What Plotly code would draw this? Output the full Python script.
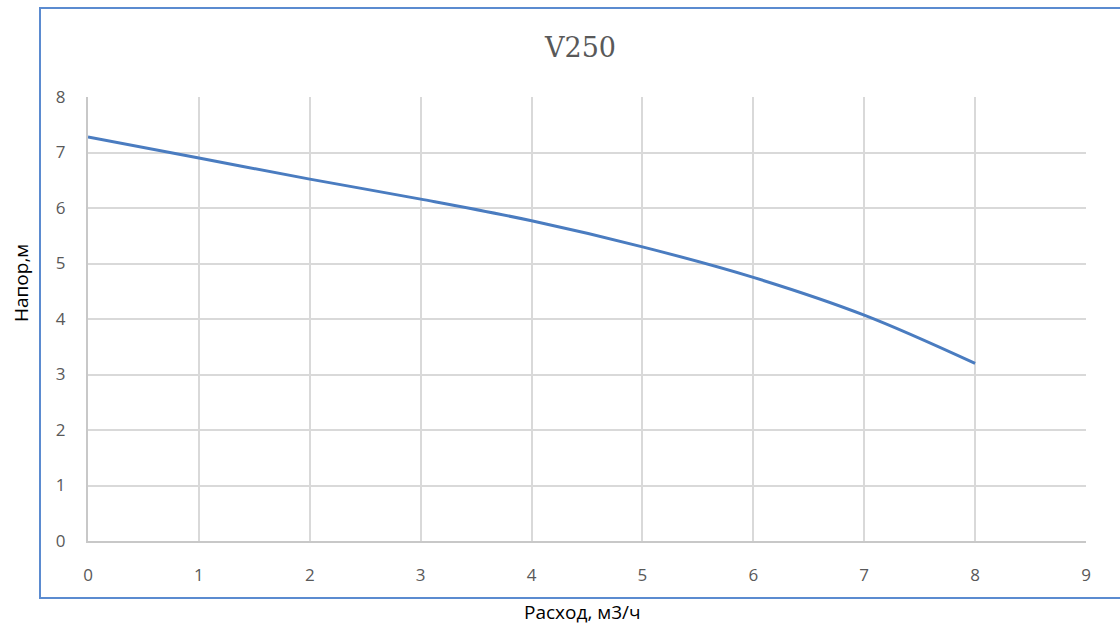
import plotly.graph_objects as go

flow = [0, 1, 2, 3, 4, 5, 6, 7, 8]
head = [7.28, 6.90, 6.52, 6.16, 5.77, 5.30, 4.75, 4.07, 3.20]
x_ticks = [0, 1, 2, 3, 4, 5, 6, 7, 8, 9]
y_ticks = [0, 1, 2, 3, 4, 5, 6, 7, 8]
title_text = "V250"
x_title = "Расход, м3/ч"
y_title = "Напор,м"

fig = go.Figure()
fig.add_trace(go.Scatter(
    x=flow, y=head, mode="lines", line_shape="spline",
    line=dict(color="#4a7cc0", width=3), showlegend=False, hoverinfo="skip"))

W, H = 1120, 629
L, R, T, B = 88, 34, 97, 88

axfont = dict(family="Open Sans, DejaVu Sans, sans-serif", size=17, color="#595959")
fig.update_layout(
    width=W, height=H,
    margin=dict(l=L, r=R, t=T, b=B),
    paper_bgcolor="white", plot_bgcolor="white",
    xaxis=dict(range=[0, 9], tickvals=x_ticks, showgrid=True, gridcolor="#d9d9d9", gridwidth=1.5,
               zeroline=False, showline=True, linecolor="#c8c8c8", linewidth=2,
               tickfont=axfont, ticks="", ticklabelstandoff=18, fixedrange=True),
    yaxis=dict(range=[0, 8], tickvals=y_ticks, showgrid=True, gridcolor="#d9d9d9", gridwidth=1.5,
               zeroline=False, showline=True, linecolor="#c8c8c8", linewidth=2,
               tickfont=axfont, ticks="", ticklabelstandoff=17, fixedrange=True),
)

pw = W - L - R
ph = H - T - B
def px_x(p):
    return (p - L) / pw
def px_y(p):
    return (H - B - p) / ph

# outer chart border (left, top, bottom; right runs past the window)
fig.add_shape(type="rect", xref="paper", yref="paper",
              x0=px_x(40), x1=px_x(1135), y0=px_y(598), y1=px_y(8),
              line=dict(color="#5b8bd0", width=2), fillcolor="rgba(0,0,0,0)", layer="below")

fig.add_annotation(text=title_text, xref="paper", yref="paper",
                   x=px_x(580), y=px_y(48), showarrow=False, xanchor="center", yanchor="middle",
                   font=dict(family="DejaVu Serif, serif", size=27, color="#595959"))
fig.add_annotation(text=x_title, xref="paper", yref="paper",
                   x=px_x(582), y=px_y(612), showarrow=False, xanchor="center", yanchor="middle",
                   font=dict(family="Open Sans, DejaVu Sans, sans-serif", size=19, color="black"))
fig.add_annotation(text=y_title, xref="paper", yref="paper", textangle=-90,
                   x=px_x(21), y=px_y(283), showarrow=False, xanchor="center", yanchor="middle",
                   font=dict(family="Open Sans, DejaVu Sans, sans-serif", size=19, color="black"))

fig.write_html("out.html", config={"displayModeBar": False},
               post_script="document.body.style.margin='0';document.body.style.overflow='hidden';")
